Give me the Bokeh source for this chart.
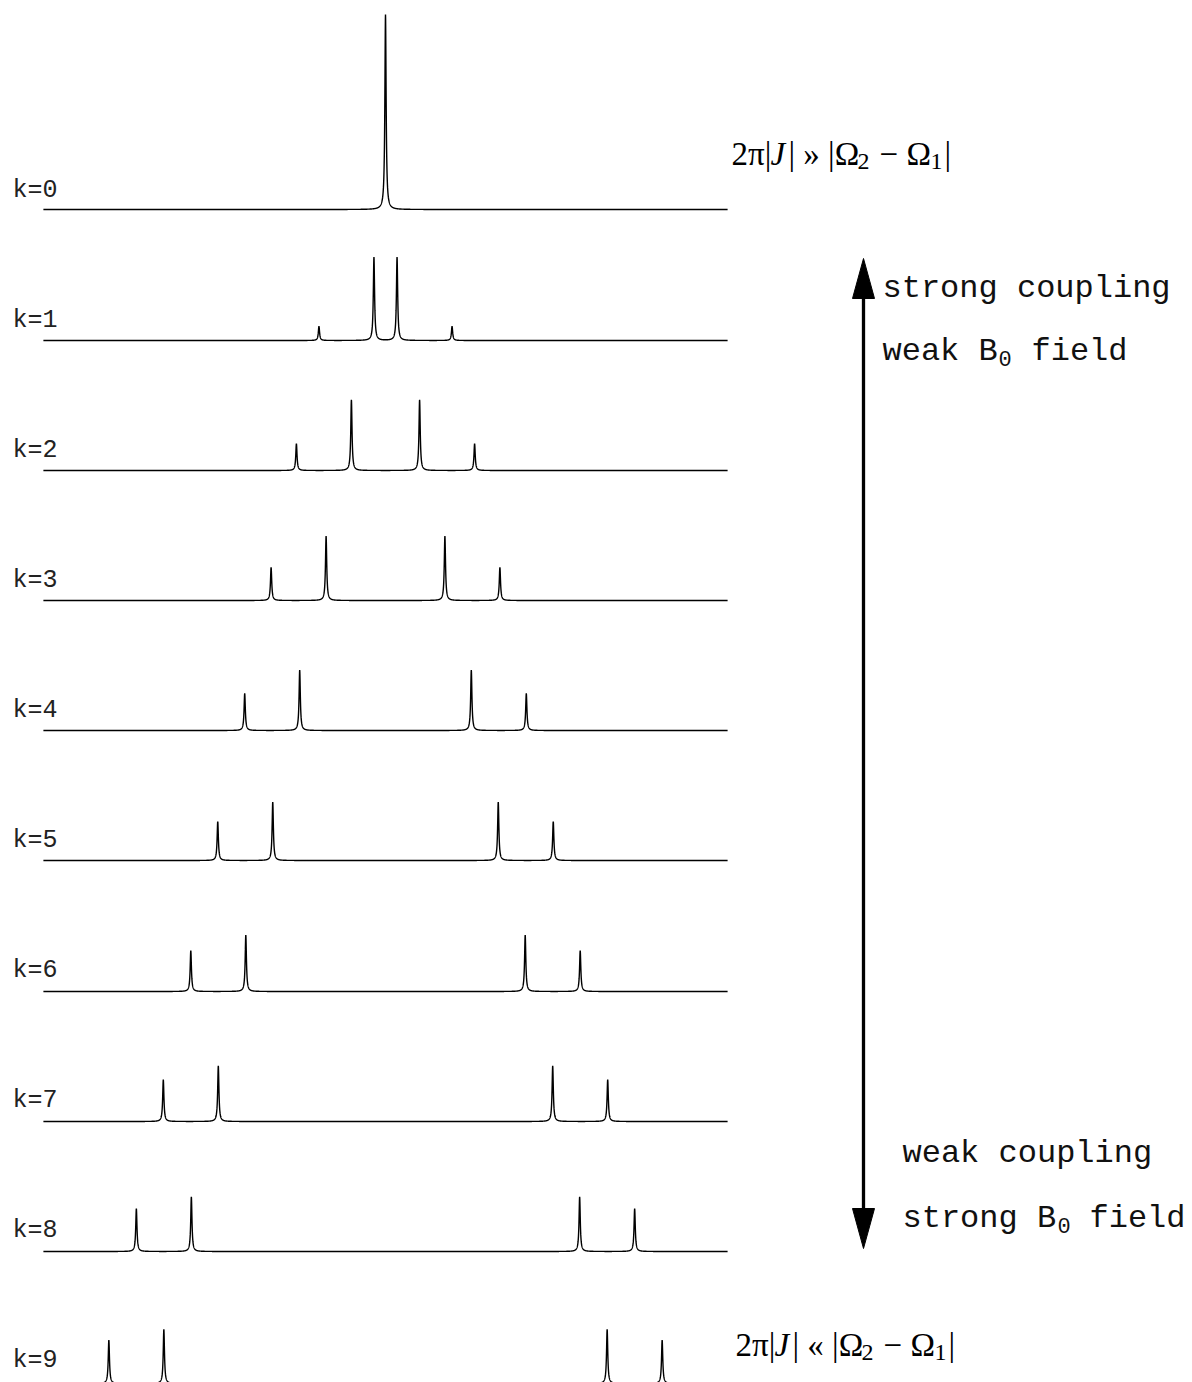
import numpy as np
from bokeh.plotting import figure
from bokeh.models import Range1d
from bokeh.core.properties import value
from bokeh.embed import file_html
from bokeh.resources import INLINE

# ---- data (frequencies in units of J, relative to spectrum centre) ----
k_labels = ["k=0", "k=1", "k=2", "k=3", "k=4", "k=5", "k=6", "k=7", "k=8", "k=9"]
inner_pos = [0.00, 0.21, 0.62, 1.08, 1.56, 2.05, 2.54, 3.04, 3.53, 4.03]
outer_pos = [1.00, 1.21, 1.62, 2.08, 2.56, 3.05, 3.54, 4.04, 4.53, 5.03]
inner_height = [2.00, 1.71, 1.45, 1.32, 1.24, 1.20, 1.16, 1.14, 1.12, 1.11]
outer_height = [0.00, 0.29, 0.55, 0.68, 0.76, 0.80, 0.84, 0.86, 0.88, 0.89]
x_limits = [-6.22, 6.22]
linewidth_J = 0.0135  # Lorentzian half width (J units)

# ---- layout helpers (page pixel -> data) ----
X0, XS = 385.0, 55.0
Y0, YS = 209.0, 48.75
W, H = 1190, 1382


def dx(px):
    return (px - X0) / XS


def dy(py):
    return (Y0 - py) / YS


row_base_px = [209, 340, 470, 600, 730, 860, 991, 1121, 1251, 1383]
label_base_px = [190 + 130 * k for k in range(10)]

p = figure(width=W, height=H, output_backend="svg", toolbar_location=None,
           x_axis_type=None, y_axis_type=None, tools="",
           x_range=Range1d(dx(0), dx(W)), y_range=Range1d(dy(H), dy(0)),
           min_border=0, outline_line_color=None)
p.grid.visible = False
p.background_fill_color = "white"
p.border_fill_color = "white"

xs_all, ys_all = [], []
for k in range(len(k_labels)):
    pos = [-outer_pos[k], -inner_pos[k], inner_pos[k], outer_pos[k]]
    hts = [outer_height[k], inner_height[k], inner_height[k], outer_height[k]]
    grid = np.arange(x_limits[0], x_limits[1] + 1e-9, 0.002)
    x = np.unique(np.concatenate([grid, np.array(pos)]))
    y = np.zeros_like(x)
    g2 = linewidth_J ** 2
    for c, h in zip(pos, hts):
        y += h * g2 / ((x - c) ** 2 + g2)
    xs_all.append(x.tolist())
    ys_all.append((y + dy(row_base_px[k])).tolist())

p.multi_line(xs_all, ys_all, line_color="black", line_width=1.4)

# row labels
p.text(x=[dx(12)] * 10, y=[dy(b) for b in label_base_px], text=k_labels,
       text_font=value("Liberation Mono"), text_font_size=value("25px"),
       text_color="#222222", text_baseline="alphabetic", text_align="left")

# arrow
p.segment(x0=[dx(863)], y0=[dy(290)], x1=[dx(863)], y1=[dy(1215)],
          line_color="black", line_width=3.3)
p.patches(xs=[[dx(852), dx(874), dx(863)], [dx(852), dx(874), dx(863)]],
          ys=[[dy(298), dy(298), dy(258)], [dy(1208), dy(1208), dy(1248)]],
          fill_color="black", line_color="black", line_width=1)

mono = value("Liberation Mono")


def mtext(s, px, py, size):
    p.text(x=[dx(px)], y=[dy(py)], text=[s], text_font=mono,
           text_font_size=value(size), text_color="#111111",
           text_baseline="alphabetic", text_align="left")


mtext("strong coupling", 882, 288, "32px")
mtext("weak B", 882, 351, "32px")
mtext("0", 998, 358, "22px")
mtext("field", 1031, 351, "32px")

mtext("weak coupling", 902, 1153, "32px")
mtext("strong B", 902, 1218, "32px")
mtext("0", 1057, 1225, "22px")
mtext("field", 1089, 1218, "32px")

serif = value("Liberation Serif")


def stext(s, px, py, size, style="normal"):
    p.text(x=[dx(px)], y=[dy(py)], text=[s], text_font=serif,
           text_font_size=value(size), text_font_style=style,
           text_color="black", text_baseline="alphabetic", text_align="left")


def formula(rel, ox, base):
    stext("2π|", ox, base, "33px")
    stext("J", ox + 39, base, "33px", "italic")
    stext("| " + rel + " |Ω", ox + 57, base, "33px")
    stext("2", ox + 126, base + 8, "24px")
    stext("−", ox + 148, base, "33px")
    stext("Ω", ox + 175, base, "33px")
    stext("1", ox + 199, base + 8, "24px")
    stext("|", ox + 213, base, "33px")


formula("»", 731, 153)
formula("«", 735, 1344)

open("out.html", "w").write(file_html(p, INLINE))
